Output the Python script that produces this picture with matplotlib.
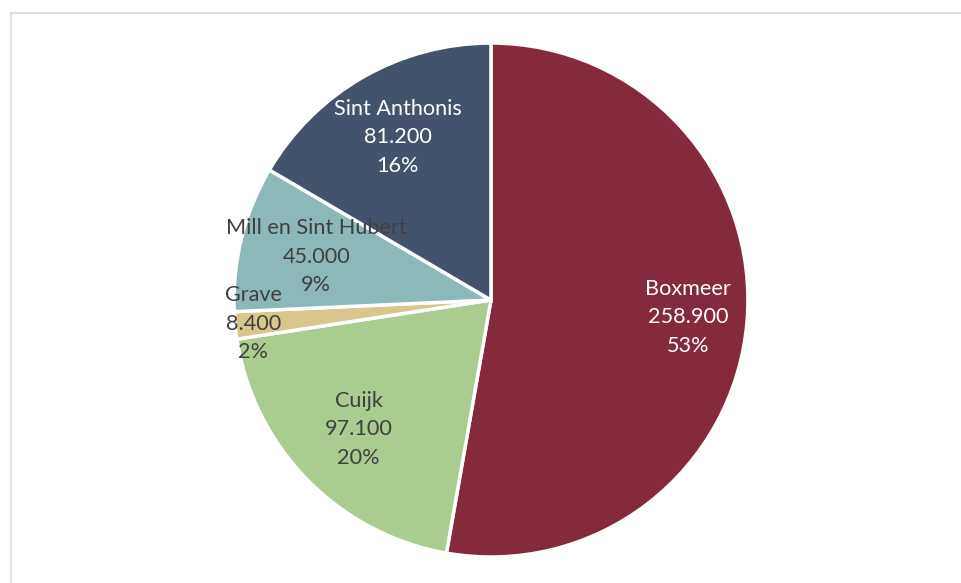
import matplotlib.pyplot as plt
import numpy as np

gemeenten = ['Boxmeer', 'Cuijk', 'Grave', 'Mill en Sint Hubert', 'Sint Anthonis']
waarden = [258900, 97100, 8400, 45000, 81200]
percentages = [53, 20, 2, 9, 16]
kleuren = ['#852A3C', '#AACC8F', '#D8C68C', '#8BB9B9', '#43536B']
tekstkleur = ['white', '#404040', '#404040', '#404040', 'white']
label_afstand = [0.77, 0.72, 0.93, 0.70, 0.73]

plt.rcParams['font.family'] = ['Lato', 'DejaVu Sans']

fig = plt.figure(figsize=(9.62, 5.83), dpi=100)
ax = fig.add_axes([0.2432, 0.0446, 0.5343, 0.8816])

wedges, _ = ax.pie(waarden, colors=kleuren, startangle=90, counterclock=False,
                   radius=1, wedgeprops=dict(edgecolor='white', linewidth=2.5))
ax.set_xlim(-1, 1)
ax.set_ylim(-1, 1)
ax.set_aspect('equal')
ax.axis('off')

for w, naam, v, p, kl, d in zip(wedges, gemeenten, waarden, percentages, tekstkleur, label_afstand):
    hoek = np.deg2rad((w.theta1 + w.theta2) / 2)
    x, y = d * np.cos(hoek), d * np.sin(hoek)
    getal = f'{v:,}'.replace(',', '.')
    ax.text(x, y, f'{naam}\n{getal}\n{p}%', ha='center', va='center',
            color=kl, fontsize=15.6, linespacing=1.53)

# lichtgrijze rand links en boven
fig.add_artist(plt.Line2D([10.5 / 962, 10.5 / 962], [0, 1 - 13 / 583],
                          color='#D9D9D9', linewidth=1.2))
fig.add_artist(plt.Line2D([10.5 / 962, 1], [1 - 13 / 583, 1 - 13 / 583],
                          color='#D9D9D9', linewidth=1.2))

plt.savefig('out.png', dpi=100)
